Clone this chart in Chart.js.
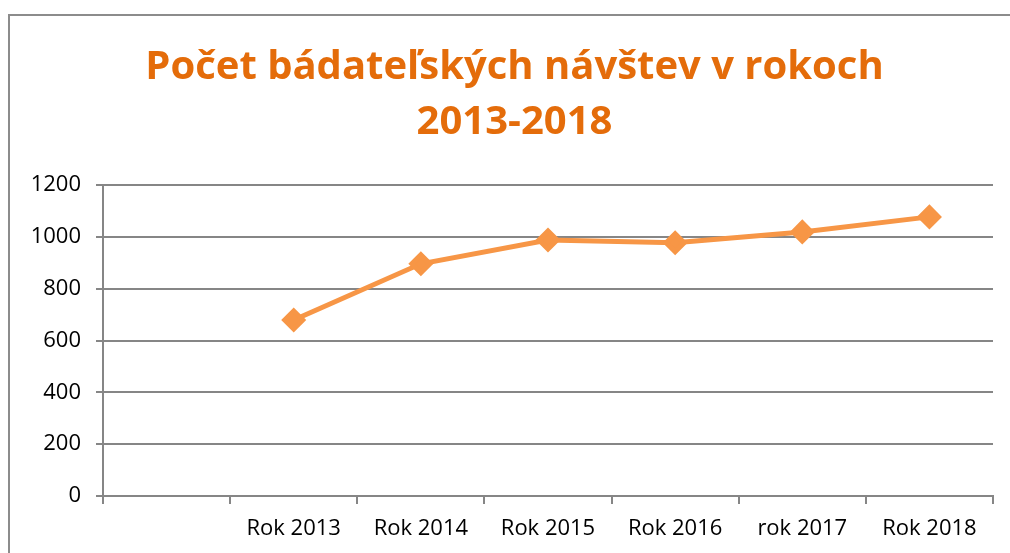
<!DOCTYPE html>
<html>
<head>
<meta charset="utf-8">
<title>Počet bádateľských návštev</title>
<style>
  html, body { margin: 0; padding: 0; background: #fff; overflow: hidden; }
  #frame { position: absolute; left: 8px; top: 14px; width: 1020px; height: 600px;
           border-left: 2px solid #8c8c8c; border-top: 2px solid #8c8c8c; }
  #myChart { position: absolute; left: 0; top: 0; }
</style>
</head>
<body>
<div id="frame"></div>
<canvas id="myChart" width="1010" height="553"></canvas>
<script src="https://cdn.jsdelivr.net/npm/chart.js@4.4.0/dist/chart.umd.min.js"></script>
<script>
// data
var categories = ['', 'Rok 2013', 'Rok 2014', 'Rok 2015', 'Rok 2016', 'rok 2017', 'Rok 2018'];
var visits = [null, 679, 896, 988, 977, 1019, 1077];
var yTicks = [0, 200, 400, 600, 800, 1000, 1200];

// title is centred on the outer frame, not on the canvas
var shiftTitle = {
  id: 'shiftTitle',
  afterLayout: function (chart) {
    if (chart.titleBlock) { chart.titleBlock.left = 36; }
  }
};

var ctx = document.getElementById('myChart').getContext('2d');
var chart = new Chart(ctx, {
  type: 'line',
  data: {
    labels: categories,
    datasets: [{
      label: 'Počet návštev',
      data: visits,
      borderColor: '#f79646',
      backgroundColor: '#f79646',
      borderWidth: 5,
      pointStyle: 'rectRot',
      pointRadius: 9,
      pointHoverRadius: 9,
      tension: 0
    }]
  },
  plugins: [shiftTitle],
  options: {
    responsive: false,
    animation: false,
    layout: { padding: { left: 12, right: 17, top: 0, bottom: 0 } },
    plugins: {
      legend: { display: false },
      tooltip: { enabled: false },
      title: {
        display: true,
        text: ['Počet bádateľských návštev v rokoch', '2013-2018'],
        color: '#e46c0a',
        font: { family: 'Open Sans', size: 40, weight: 'bold', lineHeight: 1.375 },
        padding: { top: 40, bottom: 35 }
      }
    },
    scales: {
      x: {
        offset: true,
        grid: { offset: true, drawOnChartArea: false, drawTicks: true, tickLength: 8, color: '#868686', lineWidth: 2 },
        border: { color: '#868686', width: 2 },
        ticks: { color: '#000', padding: 12, maxRotation: 0, autoSkip: false,
                 font: { family: 'Open Sans', size: 22 } },
        afterFit: function (s) { s.height = 57; }
      },
      y: {
        min: 0, max: 1200,
        afterBuildTicks: function (s) { s.ticks = yTicks.map(function (v) { return { value: v }; }); },
        grid: { color: '#868686', lineWidth: 2, tickLength: 7 },
        border: { color: '#868686', width: 2 },
        ticks: { color: '#000', padding: 15, font: { family: 'Open Sans', size: 22 },
                 callback: function (v) { return String(v); } },
        afterFit: function (s) { s.width = 91; }
      }
    }
  }
});
</script>
</body>
</html>
